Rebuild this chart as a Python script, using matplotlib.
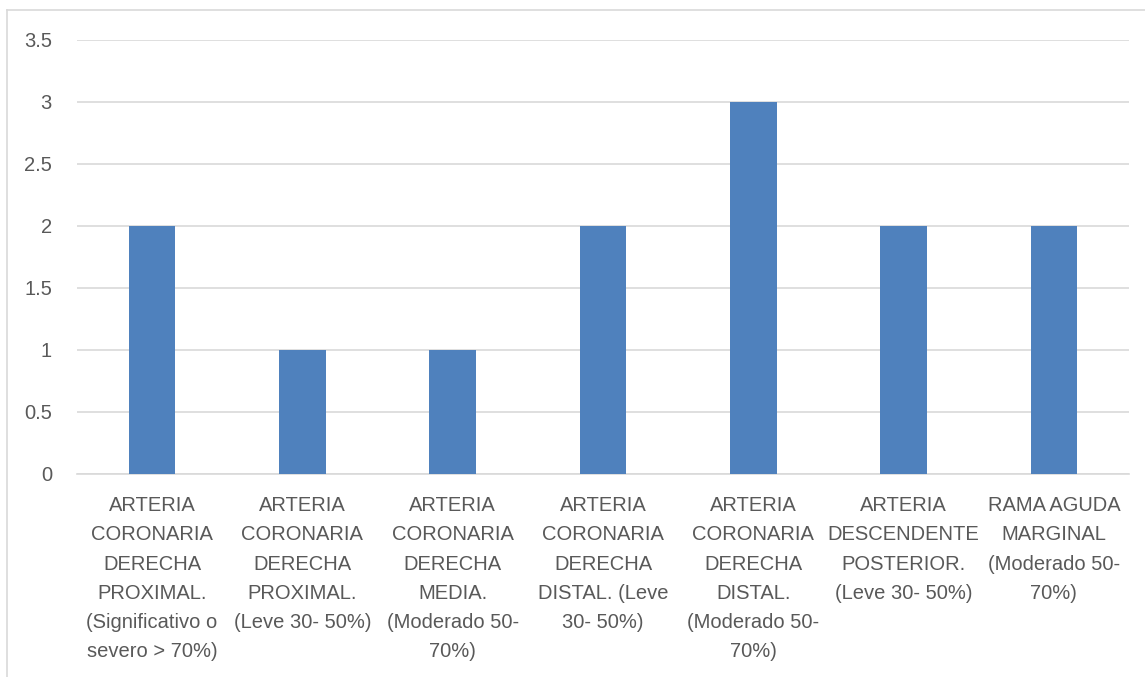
import matplotlib
matplotlib.use('Agg')
import matplotlib.pyplot as plt
from matplotlib.lines import Line2D
import numpy as np

plt.rcParams['font.family'] = ['Liberation Sans', 'DejaVu Sans']

# categories and counts
categorias = [
    'ARTERIA\nCORONARIA\nDERECHA\nPROXIMAL.\n(Significativo o\nsevero > 70%)',
    'ARTERIA\nCORONARIA\nDERECHA\nPROXIMAL.\n(Leve 30- 50%)',
    'ARTERIA\nCORONARIA\nDERECHA\nMEDIA.\n(Moderado 50-\n70%)',
    'ARTERIA\nCORONARIA\nDERECHA\nDISTAL. (Leve\n30- 50%)',
    'ARTERIA\nCORONARIA\nDERECHA\nDISTAL.\n(Moderado 50-\n70%)',
    'ARTERIA\nDESCENDENTE\nPOSTERIOR.\n(Leve 30- 50%)',
    'RAMA AGUDA\nMARGINAL\n(Moderado 50-\n70%)',
]
valores = [2, 1, 1, 2, 3, 2, 2]
yticks = [0, 0.5, 1, 1.5, 2, 2.5, 3, 3.5]
ytick_labels = ['0', '0.5', '1', '1.5', '2', '2.5', '3', '3.5']

texto = '#595959'
rejilla = '#D9D9D9'
azul = '#4F81BD'

fig = plt.figure(figsize=(11.45, 6.77), dpi=100)
ax = fig.add_axes([0.0672, 0.2999, 0.9188, 0.6411])

x = np.arange(len(categorias))
ax.bar(x, valores, width=0.31, color=azul, zorder=3)

ax.set_xlim(-0.5, len(categorias) - 0.5)
ax.set_ylim(0, 3.5)
ax.set_yticks(yticks)
ax.set_yticklabels(ytick_labels)
ax.set_xticks(x)
ax.set_xticklabels(categorias, linespacing=1.68)

ax.grid(axis='y', color=rejilla, linewidth=1.2, zorder=0)
ax.tick_params(axis='both', length=0, colors=texto, labelsize=14.5)
ax.tick_params(axis='x', pad=16)
ax.tick_params(axis='y', pad=18)
for side in ['top', 'right', 'left']:
    ax.spines[side].set_visible(False)
ax.spines['bottom'].set_color(rejilla)
ax.spines['bottom'].set_linewidth(1.2)

# chart area frame (left and top edges)
W, H = 1145, 677
fig.add_artist(Line2D([7 / W, 7 / W], [0, 1 - 10 / H], color=rejilla, linewidth=1.2))
fig.add_artist(Line2D([7 / W, 1], [1 - 10 / H, 1 - 10 / H], color=rejilla, linewidth=1.2))

fig.savefig('out.png', dpi=100)
